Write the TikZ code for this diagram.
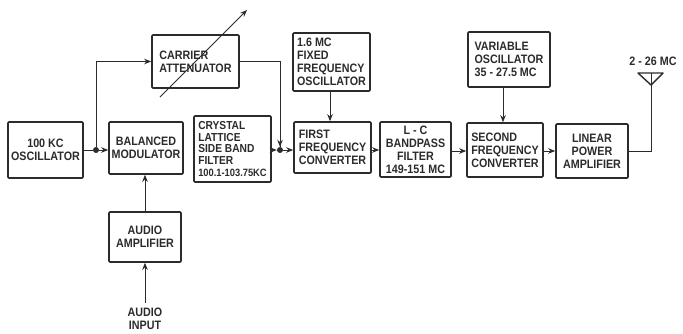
\documentclass[tikz,border=0pt]{standalone}
\usepackage{fontspec}
\setmainfont[FakeStretch=0.88]{Liberation Sans}
\usetikzlibrary{arrows.meta}
\definecolor{ink}{HTML}{2B2B2B}
\begin{document}
\begin{tikzpicture}[x=1pt,y=-1pt,
  blk/.style={draw=ink,line width=1.6pt,rounded corners=1pt,inner sep=0pt,
    font=\fontsize{12.2}{13}\selectfont\bfseries,text=ink},
  lbl/.style={font=\fontsize{12.2}{13}\selectfont\bfseries,text=ink,inner sep=0pt},
  conn/.style={draw=ink,line width=1pt},
  arr/.style={conn,-{Stealth[length=7pt,width=5.5pt]}},
  jdot/.style={circle,fill=ink,inner sep=0pt,minimum size=6pt}]
\useasboundingbox (0,0) rectangle (683,333);
% blocks
\node[blk,minimum width=75pt,minimum height=56pt,align=center] (osc) at (45.5,150) {100 KC\\OSCILLATOR};
\node[blk,minimum width=74pt,minimum height=52pt,align=center] (bm) at (146,148) {BALANCED\\MODULATOR};
\node[blk,minimum width=87pt,minimum height=53pt,align=left] (ca) at (195.5,61.5) {CARRIER\\ATTENUATOR};
\node[blk,minimum width=77pt,minimum height=66pt,align=left,font=\fontsize{11.6}{11.8}\selectfont\bfseries] (cf) at (232.5,149) {CRYSTAL\\LATTICE\\SIDE BAND\\FILTER\\{\fontsize{10.6}{11.8}\selectfont 100.1-103.75KC}};
\node[blk,minimum width=77pt,minimum height=51pt,align=left] (ffc) at (332.5,147.5) {FIRST\\FREQUENCY\\CONVERTER};
\node[blk,minimum width=77pt,minimum height=58pt,align=left] (fo) at (331.5,62) {1.6 MC\\FIXED\\FREQUENCY\\OSCILLATOR};
\node[blk,minimum width=71pt,minimum height=55pt,align=center] (lc) at (415.5,149.5) {L - C\\BANDPASS\\FILTER\\149-151 MC};
\node[blk,minimum width=76pt,minimum height=54pt,align=left] (sfc) at (505,150) {SECOND\\FREQUENCY\\CONVERTER};
\node[blk,minimum width=82pt,minimum height=55pt,align=left] (vo) at (509,59.5) {VARIABLE\\OSCILLATOR\\35 - 27.5 MC};
\node[blk,minimum width=72pt,minimum height=54pt,align=center] (lpa) at (592,151) {LINEAR\\POWER\\AMPLIFIER};
\node[blk,minimum width=72pt,minimum height=50pt,align=center] (aa) at (145,237) {AUDIO\\AMPLIFIER};
\node[lbl,align=center] (ain) at (145,319) {AUDIO\\INPUT};
\node[lbl] (freq) at (653,61) {2 - 26 MC};
% junctions
\node[jdot] (j1) at (96,150) {};
\node[jdot] (j2) at (280,150) {};
% connectors
\draw[conn] (osc.east |- j1) -- (j1);
\draw[arr] (j1) -- (j1 -| bm.west);
\draw[arr] (j1) |- (ca.west);
\draw[conn] (ca.east) -| (j2);
\coordinate (j2a) at (280,138);
\draw[arr] (j2a) -- (j2.north);
\draw[arr] (cf.east |- j2) -- (j2);
\draw[arr] (j2) -- (j2 -| ffc.west);
\draw[arr] (fo.south -| 330,0) -- (ffc.north -| 330,0);
\draw[arr] (ffc.east |- 0,150) -- (lc.west |- 0,150);
\draw[arr] (lc.east |- 0,151) -- (sfc.west |- 0,151);
\draw[arr] (vo.south -| 503,0) -- (sfc.north -| 503,0);
\draw[arr] (sfc.east |- 0,151) -- (lpa.west |- 0,151);
\draw[arr] (aa.north) -- (bm.south -| aa.north);
\coordinate (ain0) at (145,303);
\draw[arr] (ain0) -- (aa.south);
% antenna
\coordinate (ant) at (651,85);
\draw[conn] (lpa.east |- 0,151) -| (ant);
\draw[conn,line width=1.4pt,line join=round] (638,73) -- (663,73) -- (ant) -- cycle;
\draw[conn] (651,73) -- (ant);
% variable attenuator arrow
\coordinate (va1) at (160,97);
\coordinate (va2) at (247,10);
\draw[arr] (va1) -- (va2);
\end{tikzpicture}
\end{document}
